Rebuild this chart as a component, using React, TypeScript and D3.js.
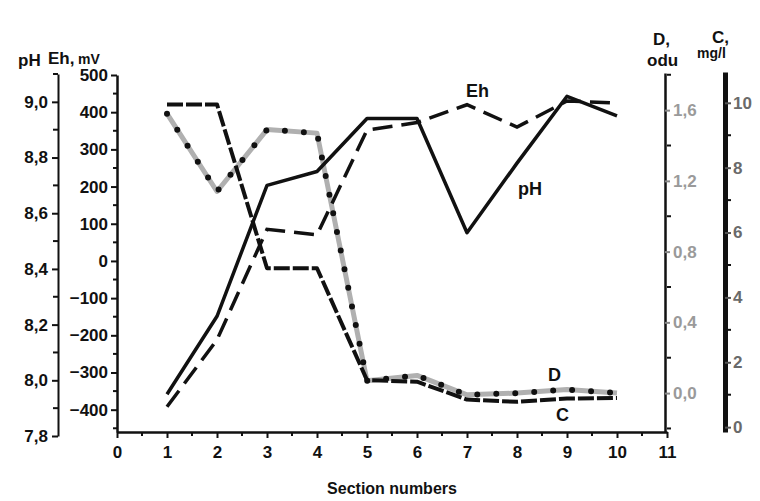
import React, { useEffect, useRef } from "react";
import * as d3 from "d3";

// section numbers along the x axis
const sections = [1, 2, 3, 4, 5, 6, 7, 8, 9, 10];
// series
const phValues = [7.95, 8.23, 8.7, 8.75, 8.94, 8.94, 8.53, 8.78, 9.02, 8.95];
const ehValues = [-392, -212, 85, 70, 352, 372, 420, 360, 430, 425];
const dValues = [1.58, 1.14, 1.49, 1.47, 0.07, 0.1, -0.01, 0.0, 0.02, 0.0];
const cValues = [9.95, 9.95, 4.9, 4.9, 1.45, 1.4, 0.85, 0.78, 0.88, 0.9];

const xTicks = [0, 1, 2, 3, 4, 5, 6, 7, 8, 9, 10, 11];
const phTicks = [7.8, 8.0, 8.2, 8.4, 8.6, 8.8, 9.0];
const ehTicks = [-400, -300, -200, -100, 0, 100, 200, 300, 400, 500];
const dTicks = [0.0, 0.4, 0.8, 1.2, 1.6];
const cTicks = [0, 2, 4, 6, 8, 10];

const FONT = "'Liberation Sans', Arial, sans-serif";

const App = () => {
  const svgRef = useRef<SVGSVGElement>(null);

  useEffect(() => {
    const svg = d3.select(svgRef.current);
    svg.selectAll("*").remove();

    const x = d3.scaleLinear().domain([0, 11]).range([117, 667]);
    const yPh = d3.scaleLinear().domain([7.8, 9.1]).range([436, 74]);
    const yEh = d3.scaleLinear().domain([-460, 500]).range([432, 75]);
    const yD = d3.scaleLinear().domain([-0.22, 1.81]).range([432, 73]);
    const yC = d3.scaleLinear().domain([-0.15, 10.95]).range([432, 72]);

    const comma = (v: number) => d3.format(".1f")(v).replace(".", ",");

    const styleAxis = (g: any, color: string, width: number, fill: string) => {
      g.select(".domain").attr("stroke", color).attr("stroke-width", width);
      g.selectAll(".tick line").attr("stroke", "#111").attr("stroke-width", 2);
      g.selectAll(".tick text")
        .attr("fill", fill)
        .attr("font-family", FONT)
        .attr("font-weight", "bold")
        .attr("font-size", 17);
    };

    const minor = (g: any, scale: any, vals: number[], x0: number, dx: number, vertical: boolean) => {
      g.selectAll(null)
        .data(vals)
        .enter()
        .append("line")
        .attr("x1", (d: number) => (vertical ? x0 : scale(d)))
        .attr("x2", (d: number) => (vertical ? x0 + dx : scale(d)))
        .attr("y1", (d: number) => (vertical ? scale(d) : x0))
        .attr("y2", (d: number) => (vertical ? scale(d) : x0 + dx))
        .attr("stroke", "#111")
        .attr("stroke-width", 2);
    };

    // x axis
    const gx = svg.append("g").attr("transform", "translate(0,432)");
    gx.call(
      d3.axisBottom(x).tickValues(xTicks).tickSize(6).tickSizeOuter(0).tickPadding(8)
    );
    styleAxis(gx, "#111", 2.5, "#111");
    minor(svg, x, d3.range(0.5, 11, 1), 432, 4, false);

    // pH axis
    const gph = svg.append("g").attr("transform", "translate(58,0)");
    gph.call(
      d3.axisLeft(yPh).tickValues(phTicks).tickFormat(comma).tickSize(6).tickSizeOuter(0).tickPadding(4)
    );
    styleAxis(gph, "#111", 2, "#111");
    minor(svg, yPh, [7.9, 8.1, 8.3, 8.5, 8.7, 8.9, 9.1], 58, -5, true);

    // Eh axis
    const geh = svg.append("g").attr("transform", "translate(117,0)");
    geh.call(
      d3.axisLeft(yEh).tickValues(ehTicks).tickFormat(d3.format("d")).tickSize(6).tickSizeOuter(0).tickPadding(3)
    );
    styleAxis(geh, "#111", 2.5, "#111");
    minor(svg, yEh, d3.range(-450, 500, 100), 117, -4, true);

    // D axis
    const gd = svg.append("g").attr("transform", "translate(665,0)");
    gd.call(
      d3.axisRight(yD).tickValues(dTicks).tickFormat(comma).tickSize(5).tickSizeOuter(0).tickPadding(3)
    );
    styleAxis(gd, "#111", 2.5, "#9a9a9a");
    gd.selectAll(".tick line").attr("stroke", "#888");
    minor(svg, yD, [-0.2, 0.2, 0.6, 1.0, 1.4, 1.8], 667, 4, true);

    // C axis
    const gc = svg.append("g").attr("transform", "translate(725,0)");
    gc.call(
      d3.axisRight(yC).tickValues(cTicks).tickFormat(d3.format("d")).tickSize(6).tickSizeOuter(0).tickPadding(2)
    );
    styleAxis(gc, "#111", 5, "#6a6a6a");
    gc.selectAll(".tick line").attr("stroke", "#555");
    minor(svg, yC, [1, 3, 5, 7, 9], 727, 4, true);

    // series
    const lineOf = (vals: number[], y: any) =>
      d3.line<number>().x((_, i) => x(sections[i])).y((d) => y(d))(vals);

    svg.append("path")
      .attr("d", lineOf(dValues, yD))
      .attr("fill", "none")
      .attr("stroke", "#b0b0b0")
      .attr("stroke-width", 5)
      .attr("stroke-linejoin", "round");
    svg.append("path")
      .attr("d", lineOf(dValues, yD))
      .attr("fill", "none")
      .attr("stroke", "#111")
      .attr("stroke-width", 6)
      .attr("stroke-linecap", "round")
      .attr("stroke-dasharray", "0 19");

    svg.append("path")
      .attr("d", lineOf(cValues, yC))
      .attr("fill", "none")
      .attr("stroke", "#111")
      .attr("stroke-width", 4)
      .attr("stroke-dasharray", "16 3")
      .attr("stroke-linejoin", "round");

    svg.append("path")
      .attr("d", lineOf(ehValues, yEh))
      .attr("fill", "none")
      .attr("stroke", "#111")
      .attr("stroke-width", 3.5)
      .attr("stroke-dasharray", "20 9");

    svg.append("path")
      .attr("d", lineOf(phValues, yPh))
      .attr("fill", "none")
      .attr("stroke", "#111")
      .attr("stroke-width", 3.5)
      .attr("stroke-linejoin", "round");

    // text labels
    const label = (t: string, lx: number, ly: number, size: number, fill = "#111") =>
      svg.append("text")
        .attr("x", lx)
        .attr("y", ly)
        .attr("font-family", FONT)
        .attr("font-weight", "bold")
        .attr("font-size", size)
        .attr("fill", fill)
        .text(t);

    label("pH", 18, 66, 17);
    label("Eh,", 48, 64, 17);
    label("mV", 78, 64, 14);
    label("D,", 653, 45, 17);
    label("odu", 647, 66, 17);
    label("C,", 712, 43, 17);
    label("mg/l", 697, 58, 14);

    label("Eh", 466, 97, 18);
    label("pH", 518, 195, 18);
    label("D", 548, 381, 18);
    label("C", 556, 421, 18);

    svg.append("text")
      .attr("x", 392)
      .attr("y", 494)
      .attr("text-anchor", "middle")
      .attr("font-family", FONT)
      .attr("font-weight", "bold")
      .attr("font-size", 16)
      .attr("fill", "#111")
      .text("Section numbers");
  }, []);

  return (
    <svg
      ref={svgRef}
      width={760}
      height={501}
      style={{ position: "absolute", left: 0, top: 0, background: "#fff" }}
    />
  );
};

export default App;
